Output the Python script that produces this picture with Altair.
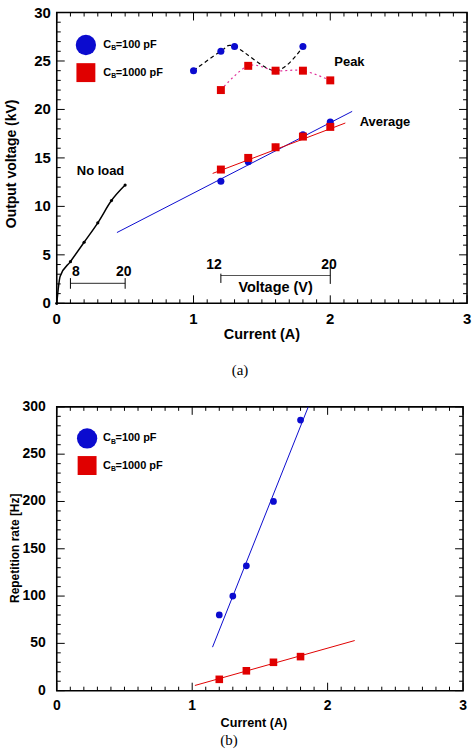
import altair as alt
import pandas as pd

FONT = "Liberation Sans"
SERIF = "Liberation Serif"
BLUE = "#0b0bcf"
RED = "#e00000"
MAGENTA = "#e0309a"
GRAY = "#555555"

# ---------------- panel (a): output voltage ----------------
noload_curve_i = [0.0, 0.025, 0.1, 0.2, 0.3, 0.4, 0.5]
noload_curve_v = [0.0, 2.8, 4.3, 6.3, 8.3, 10.6, 12.2]
noload_dot_i = [0.0, 0.1, 0.2, 0.3, 0.4, 0.5]
noload_dot_v = [0.0, 4.3, 6.3, 8.3, 10.6, 12.2]

peak100_i = [1.0, 1.2, 1.3, 1.6, 1.8]
peak100_v = [24.0, 26.0, 26.5, 24.0, 26.5]
peak1000_i = [1.2, 1.4, 1.6, 1.8, 2.0]
peak1000_v = [22.0, 24.5, 24.0, 24.0, 23.0]

avg_i = [1.2, 1.4, 1.6, 1.8, 2.0]
avg100_v = [12.6, 14.6, 16.1, 17.4, 18.7]
avg1000_v = [13.8, 15.0, 16.1, 17.2, 18.2]

fit100_i = [0.44, 2.16]
fit100_v = [7.3, 19.8]
fit1000_i = [1.14, 2.11]
fit1000_v = [13.4, 18.6]

# voltage scale bars (V) drawn under the current axis
vbar1_labels = ["8", "20"]
vbar1_i = [0.1, 0.5]
vbar2_labels = ["12", "20"]
vbar2_i = [1.2, 2.0]

# ---------------- panel (b): repetition rate ----------------
rate100_i = [1.2, 1.3, 1.4, 1.6, 1.8]
rate100_hz = [80, 100, 132, 200, 286]
rate1000_i = [1.2, 1.4, 1.6, 1.8]
rate1000_hz = [12, 21, 30, 36]
rfit100_i = [1.15, 1.857]
rfit100_hz = [46, 300]
rfit1000_i = [1.02, 2.2]
rfit1000_hz = [5.5, 53]

legend_labels = ["=100 pF", "=1000 pF"]

XDOM = [0, 3]
MAJ, MIN = 8, 4


def ticks(lo, hi, step):
    n = int(round((hi - lo) / step))
    return [round(lo + k * step, 6) for k in range(n + 1)]


def tick_layers(xfun, yfun, W, H, ymax, xmaj, xmin, ymaj, ymin):
    """Inward ticks on all four sides, lengths converted to data units."""
    xmaj_set = set(xmaj)
    ymaj_set = set(ymaj)
    xr = {"t": [], "a": [], "b": []}
    for v in xmin:
        ln = MAJ if v in xmaj_set else MIN
        dl = ymax * ln / H
        xr["t"] += [v, v]
        xr["a"] += [0.0, ymax]
        xr["b"] += [dl, ymax - dl]
    yr = {"t": [], "a": [], "b": []}
    for v in ymin:
        ln = MAJ if v in ymaj_set else MIN
        dl = XDOM[1] * ln / W
        yr["t"] += [v, v]
        yr["a"] += [0.0, XDOM[1]]
        yr["b"] += [dl, XDOM[1] - dl]
    xlay = alt.Chart(pd.DataFrame(xr)).mark_rule(color="black", strokeWidth=1).encode(
        x=xfun("t"), y=yfun("a"), y2="b:Q")
    ylay = alt.Chart(pd.DataFrame(yr)).mark_rule(color="black", strokeWidth=1).encode(
        y=yfun("t"), x=xfun("a"), x2="b:Q")
    return [xlay, ylay]


def axis_text_layers(xfun, yfun, W, H, xvals, yvals, lsize, xlab_dy, ylab_dx,
                     xtitle, xt_size, xt_x, xt_y, ytitle, yt_size, yt_x, yt_y,
                     caption, cap_x, cap_y):
    xl = alt.Chart(pd.DataFrame({"t": xvals, "s": [str(v) for v in xvals]})).mark_text(
        font=FONT, fontSize=lsize, fontWeight="bold", color="black",
        align="center", baseline="middle").encode(
        x=xfun("t"), y=alt.value(H + xlab_dy), text="s:N")
    yl = alt.Chart(pd.DataFrame({"t": yvals, "s": [str(v) for v in yvals]})).mark_text(
        font=FONT, fontSize=lsize, fontWeight="bold", color="black",
        align="right", baseline="middle").encode(
        y=yfun("t"), x=alt.value(-ylab_dx), text="s:N")
    xt = alt.Chart(pd.DataFrame({"s": [xtitle]})).mark_text(
        font=FONT, fontSize=xt_size, fontWeight="bold", color="black",
        align="center", baseline="middle").encode(
        x=alt.value(xt_x), y=alt.value(H + xt_y), text="s:N")
    yt = alt.Chart(pd.DataFrame({"s": [ytitle]})).mark_text(
        font=FONT, fontSize=yt_size, fontWeight="bold", color="black", angle=270,
        align="center", baseline="middle").encode(
        x=alt.value(yt_x), y=alt.value(yt_y), text="s:N")
    cap = alt.Chart(pd.DataFrame({"s": [caption]})).mark_text(
        font=SERIF, fontSize=15, color="black", align="center",
        baseline="middle").encode(
        x=alt.value(cap_x), y=alt.value(cap_y), text="s:N")
    return [xl, yl, xt, yt, cap]


def legend_layers(xfun, yfun, sym_x, text_x, ys, csize, ssize, fsize):
    circ = alt.Chart(pd.DataFrame({"x": [sym_x], "y": [ys[0]]})).mark_point(
        shape="circle", filled=True, color=BLUE, size=csize, opacity=1).encode(
        x=xfun("x"), y=yfun("y"))
    sq = alt.Chart(pd.DataFrame({"x": [sym_x], "y": [ys[1]]})).mark_point(
        shape="square", filled=True, color=RED, size=ssize, opacity=1).encode(
        x=xfun("x"), y=yfun("y"))
    tdf = pd.DataFrame({"x": [text_x, text_x], "y": ys, "t": legend_labels})
    c = alt.Chart(tdf).mark_text(font=FONT, fontSize=fsize, fontWeight="bold",
                                 color="black", align="left").encode(
        x=xfun("x"), y=yfun("y"), text=alt.value("C"))
    b = alt.Chart(tdf).mark_text(font=FONT, fontSize=fsize * 0.62, fontWeight="bold",
                                 color="black", align="left", dx=fsize * 0.72,
                                 dy=fsize * 0.3).encode(
        x=xfun("x"), y=yfun("y"), text=alt.value("B"))
    rest = alt.Chart(tdf).mark_text(font=FONT, fontSize=fsize, fontWeight="bold",
                                    color="black", align="left",
                                    dx=fsize * 0.72 + fsize * 0.62 * 0.67).encode(
        x=xfun("x"), y=yfun("y"), text="t:N")
    return [circ, sq, c, b, rest]


# ================= panel (a) =================
WA, HA = 412, 292
YA = [0, 30]


def xa(field):
    return alt.X(field, type="quantitative", scale=alt.Scale(domain=XDOM, nice=False),
                 axis=None)


def ya(field):
    return alt.Y(field, type="quantitative", scale=alt.Scale(domain=YA, nice=False),
                 axis=None)


noload_line = alt.Chart(pd.DataFrame({"i": noload_curve_i, "v": noload_curve_v})).mark_line(
    color="black", strokeWidth=1.5, interpolate="monotone").encode(x=xa("i"), y=ya("v"))
noload_dots = alt.Chart(pd.DataFrame({"i": noload_dot_i, "v": noload_dot_v})).mark_circle(
    color="black", size=10, opacity=1).encode(x=xa("i"), y=ya("v"))

fit_df = pd.DataFrame({
    "i": fit100_i + fit1000_i,
    "v": fit100_v + fit1000_v,
    "s": ["100", "100", "1000", "1000"],
})
fit_lines = alt.Chart(fit_df).mark_line(strokeWidth=1).encode(
    x=xa("i"), y=ya("v"),
    color=alt.Color("s:N", scale=alt.Scale(domain=["100", "1000"], range=[BLUE, RED]),
                    legend=None),
    detail="s:N",
)

peak100_line = alt.Chart(pd.DataFrame({"i": peak100_i, "v": peak100_v})).mark_line(
    color="black", strokeWidth=1.2, strokeDash=[4, 3], interpolate="cardinal").encode(
    x=xa("i"), y=ya("v"))
peak1000_line = alt.Chart(pd.DataFrame({"i": peak1000_i, "v": peak1000_v})).mark_line(
    color=MAGENTA, strokeWidth=1.2, strokeDash=[2, 3], interpolate="cardinal").encode(
    x=xa("i"), y=ya("v"))

blue_pts_a = alt.Chart(pd.DataFrame({
    "i": peak100_i + avg_i, "v": peak100_v + avg100_v})).mark_point(
    shape="circle", filled=True, color=BLUE, size=50, opacity=1).encode(
    x=xa("i"), y=ya("v"))
red_pts_a = alt.Chart(pd.DataFrame({
    "i": peak1000_i + avg_i, "v": peak1000_v + avg1000_v})).mark_point(
    shape="square", filled=True, color=RED, size=64, opacity=1).encode(
    x=xa("i"), y=ya("v"))

# voltage scale bars
vb_h = pd.DataFrame({"x": [vbar1_i[0], vbar2_i[0]], "x2": [vbar1_i[1], vbar2_i[1]],
                     "y": [2.05, 2.87]})
vb_h_rule = alt.Chart(vb_h).mark_rule(color=GRAY, strokeWidth=1.2).encode(
    x=xa("x"), x2="x2:Q", y=ya("y"))
vb_t = pd.DataFrame({"x": vbar1_i + vbar2_i, "y": [1.5, 1.5, 2.1, 2.0],
                     "y2": [2.6, 2.6, 3.06, 3.8]})
vb_t_rule = alt.Chart(vb_t).mark_rule(color="black", strokeWidth=1).encode(
    x=xa("x"), y=ya("y"), y2="y2:Q")
vb_lab = pd.DataFrame({"x": [0.14, 0.49, 1.15, 1.99], "y": [3.25, 3.25, 3.95, 3.95],
                       "t": vbar1_labels + vbar2_labels})
vb_text = alt.Chart(vb_lab).mark_text(font=FONT, fontSize=14, fontWeight="bold",
                                      color="black").encode(
    x=xa("x"), y=ya("y"), text="t:N")

annot_a = pd.DataFrame({"x": [0.32, 2.14, 2.40, 1.60], "y": [13.6, 24.9, 18.7, 1.55],
                        "t": ["No load", "Peak", "Average", "Voltage (V)"],
                        "fs": [13, 13, 13, 14.5]})
annot_text_a = alt.Chart(annot_a).mark_text(font=FONT, fontWeight="bold",
                                            color="black").encode(
    x=xa("x"), y=ya("y"), text="t:N", size=alt.Size("fs:Q", scale=None, legend=None))

leg_a = legend_layers(xa, ya, 0.213, 0.34, [26.65, 23.8], 415, 361, 11)
ticks_a = tick_layers(xa, ya, WA, HA, YA[1], [0, 1, 2, 3], ticks(0, 3, 0.1),
                      ticks(0, 30, 5), ticks(0, 30, 1))
axtext_a = axis_text_layers(
    xa, ya, WA, HA, [0, 1, 2, 3], [int(v) for v in ticks(0, 30, 5)], 15, 16, 6,
    "Current (A)", 14.5, WA / 2, 31.5, "Output voltage (kV)", 14, -45, 152,
    "(a)", 184, 359)

panel_a = alt.layer(
    noload_line, fit_lines, peak100_line, peak1000_line, vb_h_rule, vb_t_rule,
    *ticks_a,
    noload_dots, blue_pts_a, red_pts_a, vb_text, annot_text_a, *leg_a, *axtext_a
).properties(width=WA, height=HA)

# ================= panel (b) =================
WB, HB = 408, 285
YB = [0, 300]


def xb(field):
    return alt.X(field, type="quantitative", scale=alt.Scale(domain=XDOM, nice=False),
                 axis=None)


def yb(field):
    return alt.Y(field, type="quantitative", scale=alt.Scale(domain=YB, nice=False),
                 axis=None)


rfit_df = pd.DataFrame({
    "i": rfit100_i + rfit1000_i,
    "r": rfit100_hz + rfit1000_hz,
    "s": ["100", "100", "1000", "1000"],
})
rfit_lines = alt.Chart(rfit_df).mark_line(strokeWidth=1).encode(
    x=xb("i"), y=yb("r"),
    color=alt.Color("s:N", scale=alt.Scale(domain=["100", "1000"], range=[BLUE, RED]),
                    legend=None),
    detail="s:N",
)
blue_pts_b = alt.Chart(pd.DataFrame({"i": rate100_i, "r": rate100_hz})).mark_point(
    shape="circle", filled=True, color=BLUE, size=46, opacity=1).encode(
    x=xb("i"), y=yb("r"))
red_pts_b = alt.Chart(pd.DataFrame({"i": rate1000_i, "r": rate1000_hz})).mark_point(
    shape="square", filled=True, color=RED, size=58, opacity=1).encode(
    x=xb("i"), y=yb("r"))

leg_b = legend_layers(xb, yb, 0.224, 0.342, [266.6, 238.0], 415, 361, 11)
ticks_b = tick_layers(xb, yb, WB, HB, YB[1], [0, 1, 2, 3], ticks(0, 3, 0.1),
                      ticks(0, 300, 50), ticks(0, 300, 10))
axtext_b = axis_text_layers(
    xb, yb, WB, HB, [0, 1, 2, 3], [int(v) for v in ticks(0, 300, 50)], 14, 15, 11,
    "Current (A)", 12.7, 198, 32, "Repetition rate [Hz]", 12, -42, 142,
    "(b)", 173, 335)

panel_b = alt.layer(
    rfit_lines, *ticks_b, blue_pts_b, red_pts_b, *leg_b, *axtext_b
).properties(width=WB, height=HB)

chart = alt.vconcat(panel_a, panel_b, spacing=20).properties(
    padding={"left": 4, "top": 3, "right": 4, "bottom": 0},
    background="white",
).configure_view(stroke="black", strokeWidth=1.6)

chart.save("out.html", embed_options={"renderer": "svg", "actions": False})
